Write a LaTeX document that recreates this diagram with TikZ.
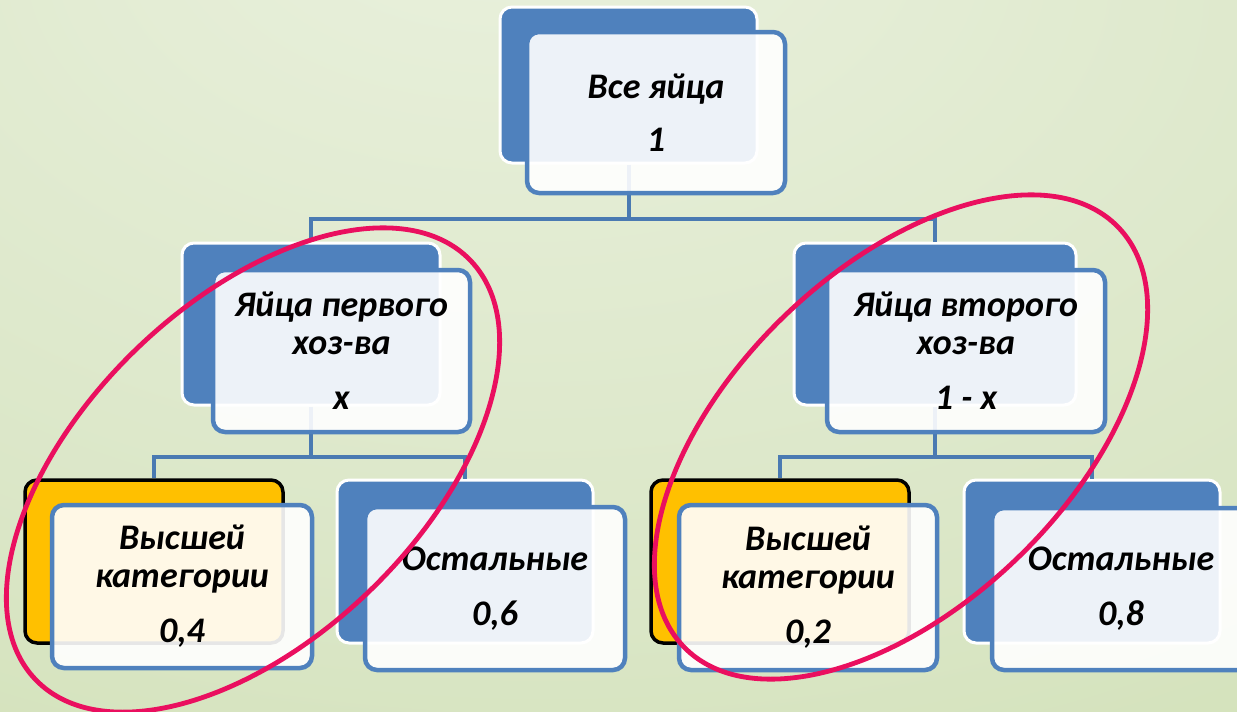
\documentclass[tikz,border=0pt]{standalone}
\usepackage{fontspec}
\setmainfont{Carlito}
\definecolor{boxblue}{HTML}{4F81BD}
\definecolor{connblue}{HTML}{4A7AB2}
\definecolor{gold}{HTML}{FFC000}
\definecolor{ovalpink}{HTML}{EA0F5F}
\definecolor{bgA}{HTML}{EAF1DE}
\definecolor{bgB}{HTML}{DAE6C6}
\definecolor{bgC}{HTML}{CADCAA}
\definecolor{bgD}{HTML}{C2D59A}
\pgfdeclareradialshading{bgshade}{\pgfpoint{-5bp}{35bp}}{color(0bp)=(bgA); color(40bp)=(bgB); color(70bp)=(bgC); color(100bp)=(bgD)}
\tikzset{
  backbox/.style={draw=white, line width=3pt, fill=boxblue, rounded corners=12pt, inner sep=0pt},
  goldbox/.style={draw=black, line width=3.5pt, fill=gold, rounded corners=12pt, inner sep=0pt},
  frontbox/.style={draw=boxblue, line width=4.5pt, fill=white, fill opacity=0.9, text opacity=1,
     rounded corners=12pt, inner sep=0pt, align=center,
     font=\fontsize{36}{38}\selectfont\bfseries\itshape},
  conn/.style={draw=connblue, line width=4pt},
  oval/.style={draw=ovalpink, line width=4.8pt}
}
\begin{document}
\begin{tikzpicture}[x=1pt,y=-1pt]
\clip (0,0) rectangle (1237,712);
\shade[shading=bgshade] (0,0) rectangle (1237,712);
\coordinate (j0) at (0,219);
\coordinate (j1) at (0,457);
% back boxes
\node[backbox, minimum width=257pt, minimum height=156pt] (topB) at (628.5,85) {};
\node[backbox, minimum width=258pt, minimum height=162pt] (midLB) at (311,324) {};
\node[backbox, minimum width=282pt, minimum height=162pt] (midRB) at (935,324) {};
\node[goldbox, minimum width=258pt, minimum height=163pt] (b1B) at (154,561.5) {};
\node[backbox, minimum width=256pt, minimum height=163pt] (b2B) at (465,561.5) {};
\node[goldbox, minimum width=258pt, minimum height=163pt] (b3B) at (780,561.5) {};
\node[backbox, minimum width=256pt, minimum height=163pt] (b4B) at (1092,561.5) {};
% connectors
\draw[conn] (topB.south) -- (topB.south |- j0) -| (midLB.north);
\draw[conn] (topB.south |- j0) -| (midRB.north);
\draw[conn] (midLB.south) -- (midLB.south |- j1) -| (b1B.north);
\draw[conn] (midLB.south |- j1) -| (b2B.north);
\draw[conn] (midRB.south) -- (midRB.south |- j1) -| (b3B.north);
\draw[conn] (midRB.south |- j1) -| (b4B.north);
% front boxes
\node[frontbox, minimum width=258pt, minimum height=161pt] (topF) at (656,112.5) {Все яйца\\[15pt]1};
\node[frontbox, minimum width=257pt, minimum height=162pt] (midLF) at (341.5,351) {Яйца первого\\хоз-ва\\[17pt]x};
\node[frontbox, minimum width=278pt, minimum height=162pt] (midRF) at (966,351) {Яйца второго\\хоз-ва\\[17pt]1 - x};
\node[frontbox, minimum width=260pt, minimum height=163pt] (b1F) at (182,586.5) {Высшей\\категории\\[17pt]0,4};
\node[frontbox, minimum width=260pt, minimum height=163pt] (b2F) at (495,588.5) {Остальные\\[17pt]0,6};
\node[frontbox, minimum width=258pt, minimum height=165pt] (b3F) at (808,587.5) {Высшей\\категории\\[17pt]0,2};
\node[frontbox, minimum width=258pt, minimum height=162pt] (b4F) at (1121,589) {Остальные\\[17pt]0,8};
% ovals
\draw[oval, shift={(253,470)}, rotate=44] (0,0) ellipse (302 and 168);
\draw[oval, shift={(901,437)}, rotate=44] (0,0) ellipse (302 and 168);
\end{tikzpicture}
\end{document}
